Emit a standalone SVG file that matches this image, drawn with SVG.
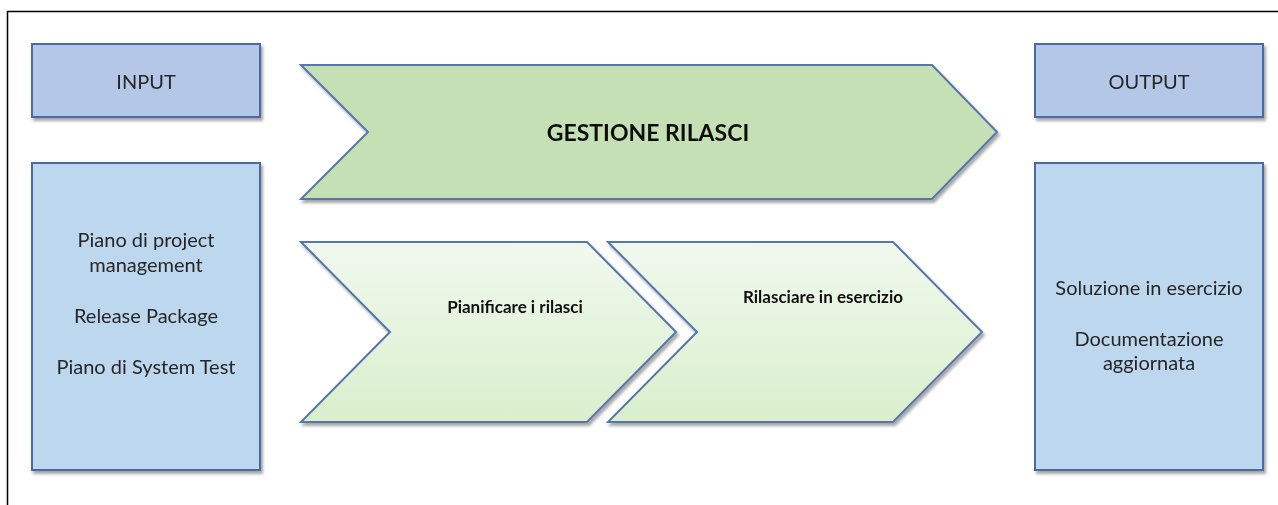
<svg xmlns="http://www.w3.org/2000/svg" width="1278" height="505" viewBox="0 0 1278 505">
<style>
.hdr{fill:#B4C7E7;stroke:#4A6AA5;stroke-width:2}
.box{fill:#BDD7EE;stroke:#4A6AA5;stroke-width:2}
.chev{stroke:#5676AD;stroke-width:2;stroke-linejoin:miter}
.t{font-family:Lato,"Open Sans","Liberation Sans",sans-serif;fill:#262626;text-anchor:middle}
.n{font-size:20px}
.b{font-weight:bold;fill:#111}
</style>
<defs>
<filter id="sh" x="-10%" y="-10%" width="125%" height="125%">
<feGaussianBlur in="SourceAlpha" stdDeviation="1.5"/>
<feOffset dx="2" dy="3" result="o"/>
<feComponentTransfer><feFuncA type="linear" slope="0.35"/></feComponentTransfer>
<feMerge><feMergeNode/><feMergeNode in="SourceGraphic"/></feMerge>
</filter>
<linearGradient id="lg" x1="0" y1="0" x2="0" y2="1">
<stop offset="0" stop-color="#F1F9EE"/>
<stop offset="1" stop-color="#D9EFCC"/>
</linearGradient>
</defs>
<rect width="1278" height="505" fill="#fff"/>
<path d="M7.5,505 V11.5 H1278" fill="none" stroke="#000" stroke-width="1.5"/>
<g id="input-header" filter="url(#sh)">
<rect class="hdr" x="32" y="44" width="228" height="73"/>
<text class="t n" x="146" y="89">INPUT</text>
</g>
<g id="input-list" filter="url(#sh)">
<rect class="box" x="32" y="163" width="228" height="307"/>
<text class="t n" x="146" y="247">Piano di project</text>
<text class="t n" x="146" y="272">management</text>
<text class="t n" x="146" y="323">Release Package</text>
<text class="t n" x="146" y="374">Piano di System Test</text>
</g>
<g id="gestione-rilasci" filter="url(#sh)">
<polygon class="chev" fill="#C5E0B4" points="301,65 932,65 997,132 932,199 301,199 368,132"/>
<text class="t b" x="648" y="141" font-size="23">GESTIONE RILASCI</text>
</g>
<g id="pianificare" filter="url(#sh)">
<polygon class="chev" fill="url(#lg)" points="301,242 587,242 676,332 587,422 301,422 390,332"/>
<text class="t b" x="515" y="313" font-size="17">Pianificare i rilasci</text>
</g>
<g id="rilasciare" filter="url(#sh)">
<polygon class="chev" fill="url(#lg)" points="608,242 893,242 982,332 893,422 608,422 697,332"/>
<text class="t b" x="823" y="303" font-size="17">Rilasciare in esercizio</text>
</g>
<g id="output-header" filter="url(#sh)">
<rect class="hdr" x="1035" y="44" width="228" height="73"/>
<text class="t n" x="1149" y="89">OUTPUT</text>
</g>
<g id="output-list" filter="url(#sh)">
<rect class="box" x="1035" y="163" width="228" height="307"/>
<text class="t n" x="1149" y="295">Soluzione in esercizio</text>
<text class="t n" x="1149" y="346">Documentazione</text>
<text class="t n" x="1149" y="370">aggiornata</text>
</g>
<g id="connectors"/>
</svg>
